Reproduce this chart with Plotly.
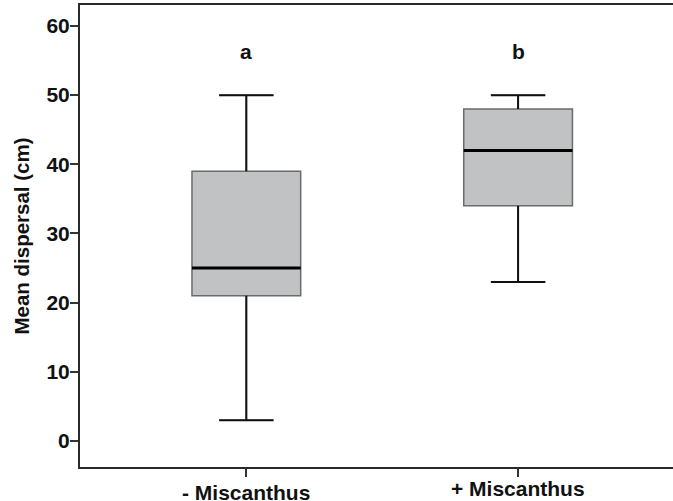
import plotly.graph_objects as go

# ---- data ----
categories = ["- Miscanthus", "+ Miscanthus"]
lower_whisker = [3, 23]
q1 = [21, 34]
median = [25, 42]
q3 = [39, 48]
upper_whisker = [50, 50]
letters = ["a", "b"]
y_ticks = [0, 10, 20, 30, 40, 50, 60]

FONT = "Liberation Sans, Arial, sans-serif"
BOX_W = 0.4
CAP_W = 0.5 * BOX_W
xs = list(range(len(categories)))

fig = go.Figure()

# boxes (body)
fig.add_trace(go.Box(
    x=xs, q1=q1, median=median, q3=q3,
    lowerfence=lower_whisker, upperfence=upper_whisker,
    width=BOX_W, whiskerwidth=0.5,
    fillcolor="#c1c2c4",
    line=dict(color="#6b6b6b", width=1.5),
    boxpoints=False, hoverinfo="skip", showlegend=False,
))

# whiskers and medians in black on top
wx, wy = [], []
mx, my = [], []
for i, x in enumerate(xs):
    wx += [x, x, None, x, x, None,
           x - CAP_W / 2, x + CAP_W / 2, None,
           x - CAP_W / 2, x + CAP_W / 2, None]
    wy += [q3[i], upper_whisker[i], None, q1[i], lower_whisker[i], None,
           upper_whisker[i], upper_whisker[i], None,
           lower_whisker[i], lower_whisker[i], None]
    mx += [x - BOX_W / 2, x + BOX_W / 2, None]
    my += [median[i], median[i], None]

fig.add_trace(go.Scatter(x=wx, y=wy, mode="lines",
                         line=dict(color="#111111", width=2),
                         hoverinfo="skip", showlegend=False))
fig.add_trace(go.Scatter(x=mx, y=my, mode="lines",
                         line=dict(color="#000000", width=3),
                         hoverinfo="skip", showlegend=False))

BOLD = dict(family=FONT, size=21, color="#111111", weight="bold")

annotations = []
for x, t in zip(xs, letters):
    annotations.append(dict(x=x, y=56.3, xref="x", yref="y", text=t,
                            showarrow=False, yanchor="middle", font=BOLD))
label_shift = [-12, -8]
for x, t, s in zip(xs, categories, label_shift):
    annotations.append(dict(x=x, y=0, xref="x", yref="paper", text=t,
                            showarrow=False, yanchor="top", yshift=s,
                            font=BOLD))

fig.update_layout(
    width=673, height=501,
    margin=dict(l=80, r=0, t=5, b=34),
    paper_bgcolor="white", plot_bgcolor="white",
    font=BOLD,
    annotations=annotations,
    xaxis=dict(
        range=[-0.612, 1.57], tickvals=xs,
        showticklabels=False, ticks="outside", ticklen=8, tickwidth=2,
        tickcolor="#333333", showline=True, linecolor="#2a2a2a",
        linewidth=2, mirror=True, showgrid=False, zeroline=False,
    ),
    yaxis=dict(
        range=[-3.76, 63.03], tickvals=y_ticks,
        ticks="outside", ticklen=8, tickwidth=2, tickcolor="#333333",
        ticklabelstandoff=-4,
        showline=True, linecolor="#2a2a2a", linewidth=2,
        showgrid=False, zeroline=False,
        tickfont=BOLD,
        title=dict(text="Mean dispersal (cm)",
                   font=dict(family=FONT, size=20.5, color="#111111",
                             weight="bold"),
                   standoff=11),
    ),
)

fig.write_html("out.html", config={"displayModeBar": False},
               post_script="document.body.style.margin='0';")
